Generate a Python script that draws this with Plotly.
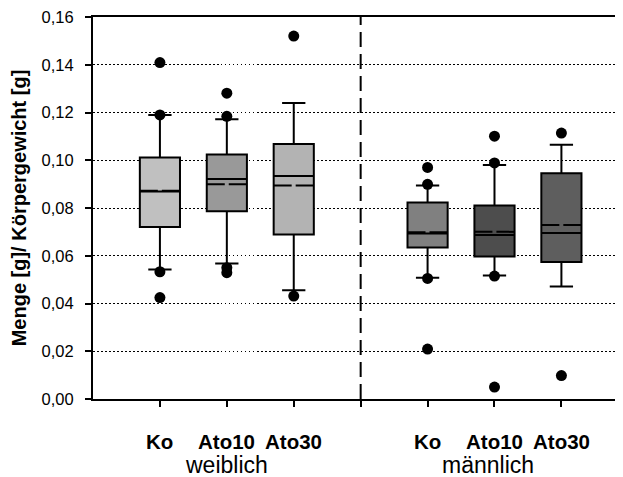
import plotly.graph_objects as go

# ---- data ----
groups = ["weiblich", "männlich"]
treatments = ["Ko", "Ato10", "Ato30"]

q1 = [0.0720, 0.0786, 0.0689, 0.0635, 0.0597, 0.0574]
median = [0.0869, 0.0921, 0.0934, 0.0693, 0.0687, 0.0695]
q3 = [0.1011, 0.1024, 0.1068, 0.0823, 0.0810, 0.0946]
mean = [0.0872, 0.0900, 0.0894, 0.0698, 0.0700, 0.0729]
lower_whisker = [0.0542, 0.0568, 0.0456, 0.0508, 0.0517, 0.0471]
upper_whisker = [0.1190, 0.1172, 0.1240, 0.0894, 0.0980, 0.1065]
outliers = [
    [0.1409, 0.1190, 0.0533, 0.0425],
    [0.1281, 0.1184, 0.0550, 0.0529],
    [0.1520, 0.0431],
    [0.0970, 0.0899, 0.0505, 0.0209],
    [0.1101, 0.0989, 0.0515, 0.0050],
    [0.1114, 0.0098],
]
fill_colors = ["#c0c0c0", "#999999", "#b3b3b3", "#808080", "#4d4d4d", "#5e5e5e"]

y_ticks = [0.00, 0.02, 0.04, 0.06, 0.08, 0.10, 0.12, 0.14, 0.16]

BOX_W = 0.6
FONT = "Liberation Sans, Arial"

fig = go.Figure()

positions = []
labels = []
for gi, g in enumerate(groups):
    for ti, t in enumerate(treatments):
        positions.append(gi * (len(treatments) + 1) + ti + 1)
        labels.append(t)

for i, p in enumerate(positions):
    fig.add_trace(go.Box(
        x=[p], q1=[q1[i]], median=[median[i]], q3=[q3[i]],
        lowerfence=[lower_whisker[i]], upperfence=[upper_whisker[i]],
        boxpoints=False, width=BOX_W, whiskerwidth=0.58,
        fillcolor=fill_colors[i], line=dict(color="black", width=2),
        showlegend=False, hoverinfo="skip",
    ))
    # mean line (dashed, with gap in the middle)
    fig.add_trace(go.Scatter(
        x=[p - BOX_W / 2, p + BOX_W / 2], y=[mean[i], mean[i]], mode="lines",
        line=dict(color="black", width=2, dash="18px,4px"),
        showlegend=False, hoverinfo="skip",
    ))
    fig.add_trace(go.Scatter(
        x=[p] * len(outliers[i]), y=outliers[i], mode="markers",
        marker=dict(color="black", size=11), showlegend=False, hoverinfo="skip",
    ))

divider = len(treatments) + 1
fig.add_shape(type="line", x0=divider, x1=divider, y0=y_ticks[0], y1=y_ticks[-1],
              xref="x", yref="y", line=dict(color="black", width=2, dash="15px,7px"))

for p, lab in zip(positions, labels):
    fig.add_annotation(x=p, y=0, xref="x", yref="paper", text="<b>" + lab + "</b>",
                       showarrow=False, yshift=-42, yanchor="middle",
                       font=dict(size=20.5, color="black", family=FONT))
group_nudge = [0.0, -0.1]
for gi, g in enumerate(groups):
    center = gi * (len(treatments) + 1) + (len(treatments) + 1) / 2 + group_nudge[gi]
    fig.add_annotation(x=center, y=0, xref="x", yref="paper", text=g,
                       showarrow=False, yshift=-66, yanchor="middle",
                       font=dict(size=23, color="black", family=FONT))

fig.update_layout(
    width=623, height=477,
    margin=dict(l=85, r=0, t=6, b=86),
    paper_bgcolor="white", plot_bgcolor="white",
    separators=",.",
    font=dict(family=FONT, color="black", size=16),
    showlegend=False,
)
fig.update_xaxes(
    range=[0, 8.04], tickvals=positions + [divider], ticktext=[""] * (len(positions) + 1),
    ticks="outside", ticklen=6, tickwidth=2, tickcolor="black",
    showline=True, linecolor="black", linewidth=2, mirror=True,
    showgrid=False, zeroline=False,
)
fig.update_yaxes(
    range=[y_ticks[0], y_ticks[-1]], tickvals=y_ticks, tickformat=".2f",
    ticks="outside", ticklen=6, tickwidth=2, tickcolor="black",
    showline=True, linecolor="black", linewidth=2,
    showgrid=True, gridcolor="black", gridwidth=1, griddash="1.5px,2.5px",
    zeroline=False, tickfont=dict(size=16.5), ticklabelstandoff=8,
    ticklabeloverflow="allow",
    title=dict(text="<b>Menge [g]/ Körpergewicht [g]</b>", font=dict(size=20), standoff=10),
)

fig.write_html("out.html")
